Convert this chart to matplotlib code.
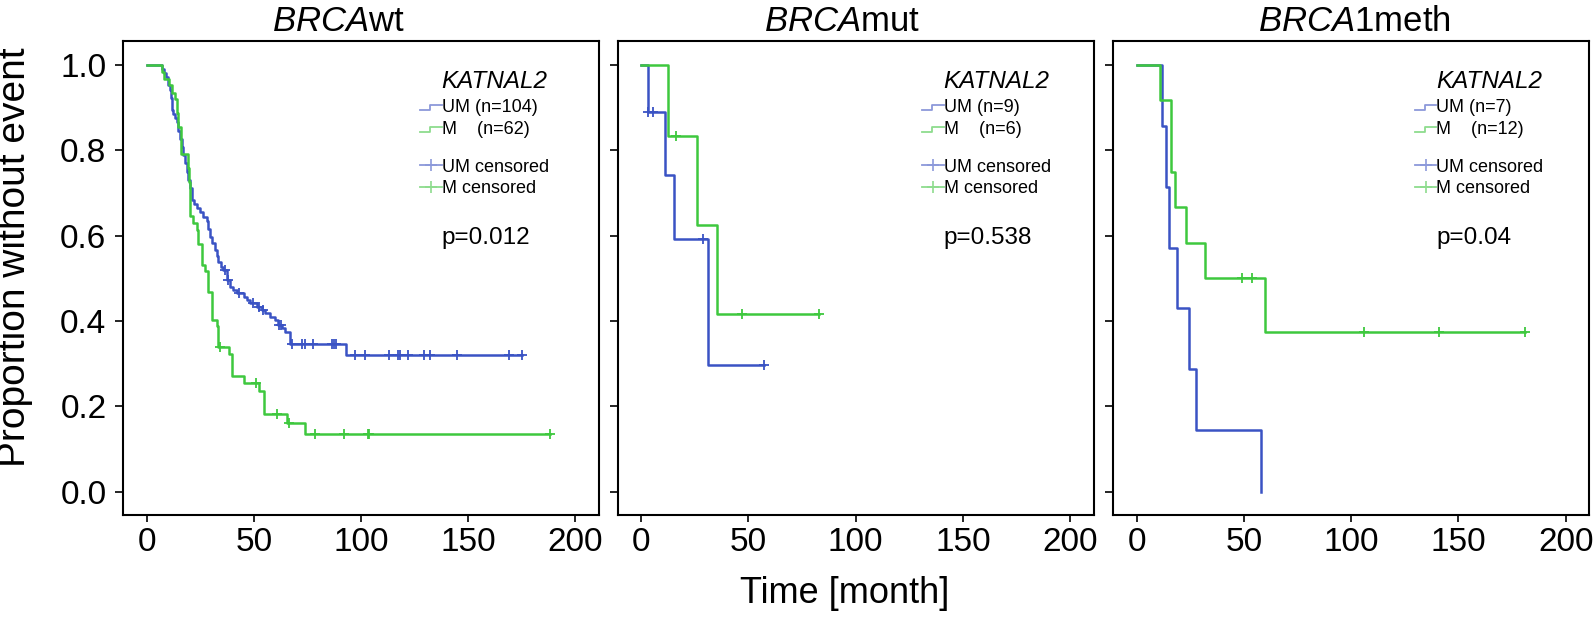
import numpy as np
import matplotlib
matplotlib.use('Agg')
import matplotlib.pyplot as plt
from matplotlib.lines import Line2D
from matplotlib.legend_handler import HandlerBase

plt.rcParams['font.family'] = ['Liberation Sans', 'DejaVu Sans']
plt.rcParams['mathtext.fontset'] = 'custom'
plt.rcParams['mathtext.rm'] = 'Liberation Sans'
plt.rcParams['mathtext.it'] = 'Liberation Sans:italic'

BLUE = '#3a53c4'
GREEN = '#3ec83e'
BLUE_LIGHT = '#8c99da'
GREEN_LIGHT = '#8edc8e'

# ---- BRCAwt: event times (months) and survival after each event
wt_um_t = [7.0, 8.0, 9.0, 10.0, 10.8, 11.2, 11.6, 12.5, 13.2, 14.0, 14.8, 15.5,
           16.3, 17.0, 17.9, 18.7, 19.5, 20.2, 21.0, 22.0, 23.3, 25.0, 26.5,
           28.0, 28.8, 29.6, 30.4, 31.9, 32.7, 33.5, 34.5, 35.8, 37.4, 38.9,
           40.5, 42.0, 45.2, 47.0, 48.3, 51.4, 53.7, 55.3, 57.6, 60.0, 61.5,
           63.1, 64.5, 67.0, 93.0]
wt_um_s = [0.990, 0.981, 0.971, 0.952, 0.942, 0.923, 0.894, 0.885, 0.875, 0.865,
           0.846, 0.827, 0.807, 0.788, 0.769, 0.750, 0.731, 0.712, 0.683, 0.673,
           0.664, 0.654, 0.644, 0.634, 0.615, 0.596, 0.582, 0.567, 0.552, 0.537,
           0.527, 0.519, 0.496, 0.480, 0.472, 0.465, 0.457, 0.449, 0.441, 0.433,
           0.425, 0.418, 0.410, 0.402, 0.390, 0.383, 0.375, 0.345, 0.320]
wt_um_cens = [36.6, 37.8, 43.3, 49.5, 52.2, 54.5, 61.8, 62.6, 67.7, 72.4, 74.0,
              77.6, 86.4, 87.5, 88.5, 97.3, 102.0, 112.9, 117.1, 118.0, 121.9,
              129.3, 132.1, 144.8, 169.0, 175.2]
wt_m_t = [7.0, 8.0, 10.3, 12.0, 13.2, 14.0, 14.8, 15.9, 19.1, 19.6, 20.2, 21.7,
          23.3, 24.1, 25.7, 27.2, 28.8, 30.4, 32.7, 33.5, 38.5, 40.0, 45.2,
          52.2, 54.8, 65.4, 74.0]
wt_m_s = [0.984, 0.968, 0.952, 0.935, 0.919, 0.887, 0.855, 0.790, 0.758, 0.726,
          0.645, 0.629, 0.613, 0.581, 0.532, 0.516, 0.468, 0.403, 0.387, 0.339,
          0.322, 0.270, 0.254, 0.236, 0.181, 0.161, 0.134]
wt_m_cens = [34.0, 51.0, 60.7, 66.5, 78.6, 92.0, 103.1, 103.7, 188.2]

# ---- BRCAmut
mut_um_t = [3.1, 11.2, 15.1, 30.9]
mut_um_s = [0.889, 0.741, 0.593, 0.296]
mut_um_cens = [3.1, 5.3, 28.7, 57.3]
mut_m_t = [12.4, 26.2, 35.3]
mut_m_s = [0.833, 0.625, 0.417]
mut_m_cens = [16.3, 46.9, 83.1]

# ---- BRCA1meth
meth_um_t = [11.9, 13.8, 15.1, 18.9, 24.4, 27.8, 57.8]
meth_um_s = [0.857, 0.714, 0.571, 0.429, 0.286, 0.143, 0.0]
meth_um_cens = []
meth_m_t = [10.9, 15.8, 17.8, 22.8, 31.8, 59.8]
meth_m_s = [0.917, 0.750, 0.667, 0.583, 0.500, 0.375]
meth_m_cens = [48.9, 53.9, 105.9, 140.9, 180.9]

titles = [r'$\mathit{BRCA}$wt', r'$\mathit{BRCA}$mut', r'$\mathit{BRCA1}$meth']
n_um = [104, 9, 7]
n_m = [62, 6, 12]
p_values = ['p=0.012', 'p=0.538', 'p=0.04']
x_ticks = [0, 50, 100, 150, 200]
y_ticks = [0.0, 0.2, 0.4, 0.6, 0.8, 1.0]


def km_value(times, surv, t):
    """survival value of a step curve at time t"""
    idx = np.searchsorted(times, t, side='right') - 1
    return 1.0 if idx < 0 else surv[idx]


def draw_km(ax, times, surv, cens, color):
    times = np.asarray(times)
    surv = np.asarray(surv)
    t_end = max([times[-1]] + list(cens))
    x = np.r_[0, times, t_end]
    y = np.r_[1.0, surv, surv[-1]]
    if t_end == times[-1]:
        x, y = x[:-1], y[:-1]
    ax.step(x, y, where='post', color=color, lw=1.8)
    if len(cens):
        cy = [km_value(times, surv, c) for c in cens]
        ax.plot(cens, cy, ls='none', marker='+', ms=7, mew=1.3, color=color)


class StepHandler(HandlerBase):
    def create_artists(self, legend, orig_handle, xdescent, ydescent,
                       width, height, fontsize, trans):
        x0 = -xdescent
        y0 = -ydescent
        xs = [x0, x0 + 0.45 * width, x0 + 0.45 * width, x0 + width]
        ys = [y0 + 0.15 * height, y0 + 0.15 * height,
              y0 + 0.55 * height, y0 + 0.55 * height]
        line = Line2D(xs, ys, color=orig_handle.get_color(), lw=1.3)
        line.set_transform(trans)
        return [line]


fig = plt.figure(figsize=(15.94, 6.2), dpi=100)
lefts = [0.0772, 0.3875, 0.6984]
text_x = [0.6695, 0.6846, 0.679]
title_x = [0.452, 0.472, 0.506]
panels = [
    (wt_um_t, wt_um_s, wt_um_cens, wt_m_t, wt_m_s, wt_m_cens),
    (mut_um_t, mut_um_s, mut_um_cens, mut_m_t, mut_m_s, mut_m_cens),
    (meth_um_t, meth_um_s, meth_um_cens, meth_m_t, meth_m_s, meth_m_cens),
]

leg_fs = 13.0
handlelen = 1.2
ax_w_px = 0.2986 * 1594

for i, (ut, us, uc, mt, ms, mc) in enumerate(panels):
    ax = fig.add_axes([lefts[i], 0.1694, 0.2986, 0.7645])
    draw_km(ax, ut, us, uc, BLUE)
    draw_km(ax, mt, ms, mc, GREEN)

    ax.set_xlim(-11, 211)
    ax.set_ylim(-0.055, 1.056)
    ax.set_xticks(x_ticks)
    ax.set_yticks(y_ticks)
    ax.tick_params(direction='out', width=1.2, labelsize=24)
    ax.tick_params(axis='x', length=5, pad=4)
    ax.tick_params(axis='y', length=6, pad=6)
    if i == 0:
        ax.set_yticklabels([f'{v:.1f}' for v in y_ticks])
    else:
        ax.set_yticklabels([])
    for sp in ax.spines.values():
        sp.set_linewidth(1.5)

    ax.text(title_x[i], 1.021, titles[i], transform=ax.transAxes,
            ha='center', va='baseline', fontsize=25)

    tx = text_x[i]
    ax.text(tx, 0.915, 'KATNAL2', transform=ax.transAxes, fontsize=17.5,
            fontstyle='italic', ha='left', va='center')
    ax.text(tx, 0.585, p_values[i], transform=ax.transAxes, fontsize=17.5,
            ha='left', va='center')

    anchor_x = tx - handlelen * leg_fs * 100 / 72 / ax_w_px
    h_um = Line2D([], [], color=BLUE_LIGHT)
    h_m = Line2D([], [], color=GREEN_LIGHT)
    leg1 = ax.legend([h_um, h_m],
                     [f'UM (n={n_um[i]})', f'M    (n={n_m[i]})'],
                     handler_map={Line2D: StepHandler()},
                     loc='upper left', bbox_to_anchor=(anchor_x, 0.877),
                     frameon=False, fontsize=leg_fs, borderpad=0,
                     borderaxespad=0, handlelength=handlelen,
                     handletextpad=0, labelspacing=0.25)
    ax.add_artist(leg1)
    c_um = Line2D([], [], color=BLUE_LIGHT, lw=1.3, marker='+', ms=8, mew=1.2)
    c_m = Line2D([], [], color=GREEN_LIGHT, lw=1.3, marker='+', ms=8, mew=1.2)
    ax.legend([c_um, c_m], ['UM censored', 'M censored'], numpoints=1,
              loc='upper left', bbox_to_anchor=(anchor_x, 0.752),
              frameon=False, fontsize=leg_fs, borderpad=0, borderaxespad=0,
              handlelength=handlelen, handletextpad=0, labelspacing=0.25)

fig.text(0.0095, 0.585, 'Proportion without event', rotation=90,
         ha='center', va='center', fontsize=28)
fig.text(0.530, 0.043, 'Time [month]', ha='center', va='center', fontsize=26)

fig.savefig('out.png', dpi=100)
